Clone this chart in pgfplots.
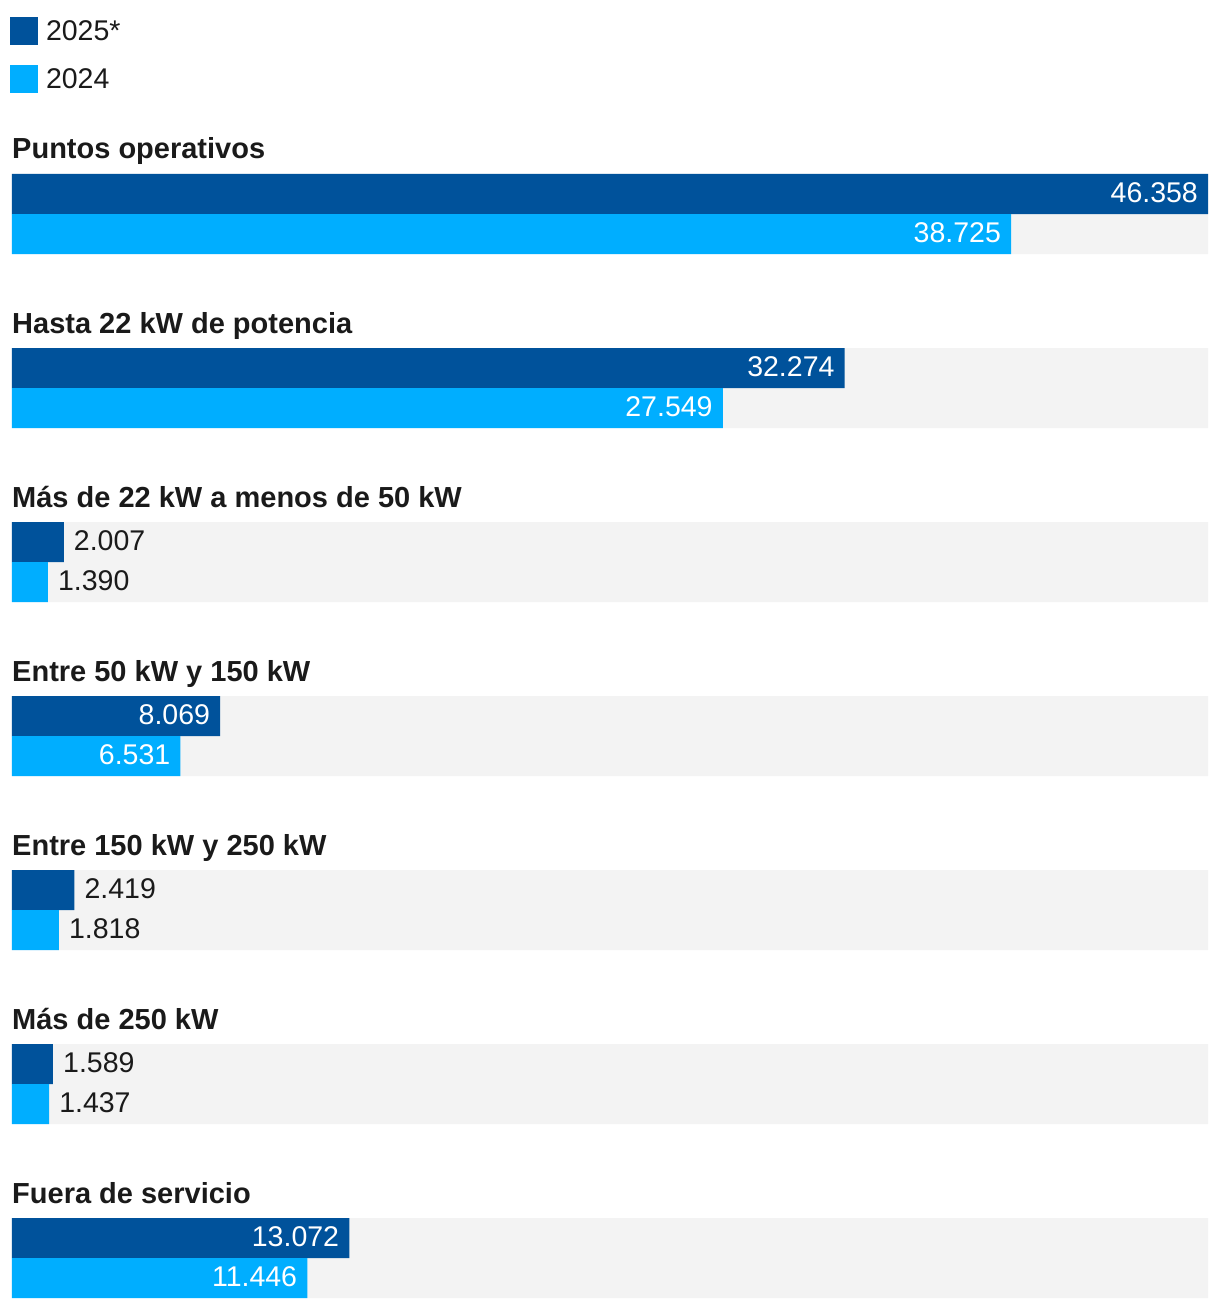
\documentclass[border=0pt]{standalone}
\usepackage{pgfplots}
\pgfplotsset{compat=1.18}
\usepackage{fontspec}
\setmainfont{Liberation Sans}
\definecolor{azuloscuro}{HTML}{00529B}
\definecolor{azulclaro}{HTML}{00AEFF}
\definecolor{fondo}{HTML}{F3F3F3}
\definecolor{texto}{HTML}{1A1A1A}
\newcommand{\valfont}{\fontsize{28.5}{28.5}\selectfont}
\newcommand{\catfont}{\fontsize{29}{29}\selectfont\bfseries}
\begin{document}
\begin{tikzpicture}
\begin{axis}[
    scale only axis,
    width=1220pt, height=1308pt,
    xmin=-465.1, xmax=46823.1,
    ymin=0, ymax=1308,
    y dir=reverse,
    hide axis, clip=false,
    xbar, bar width=40,
    point meta=x,
    /pgf/number format/.cd, fixed, precision=0, 1000 sep={.}, assume math mode=true,
    /pgfplots/.cd,
    legend style={draw=none, fill=none, at={(axis description cs:0,1)},
        anchor=north west, xshift=10pt, yshift=-17pt, inner sep=0pt, outer sep=0pt,
        row sep=20pt, font=\valfont\color{texto},
        /tikz/every odd column/.append style={column sep=6pt}},
    legend cell align=left,
    legend image code/.code={\fill[#1] (0pt,-14pt) rectangle (28pt,14pt);},
    inside/.style={nodes near coords, nodes near coords style={anchor=east, inner sep=0pt, xshift=-10pt, yshift=1.5pt, text=white, font=\valfont}},
    outside/.style={nodes near coords, nodes near coords style={anchor=west, inner sep=0pt, xshift=10pt, yshift=1.5pt, text=texto, font=\valfont}},
]
% fondo gris de cada grupo
\addplot[fill=fondo, draw=none, bar shift=0pt, bar width=80, forget plot] coordinates {
    (46358,214) (46358,388) (46358,562) (46358,736) (46358,910) (46358,1084) (46358,1258)};
% 2025*
\addplot[fill=azuloscuro, draw=none, bar shift=0pt, inside] coordinates {
    (46358,194) (32274,368) (8069,716) (13072,1238)};
\addplot[fill=azuloscuro, draw=none, bar shift=0pt, outside, forget plot] coordinates {
    (2007,542) (2419,890) (1589,1064)};
% 2024
\addplot[fill=azulclaro, draw=none, bar shift=0pt, inside] coordinates {
    (38725,234) (27549,408) (6531,756) (11446,1278)};
\addplot[fill=azulclaro, draw=none, bar shift=0pt, outside, forget plot] coordinates {
    (1390,582) (1818,930) (1437,1104)};
\legend{2025*, 2024}
% categorias
\node[anchor=base west, inner sep=0pt, text=texto, font=\catfont] at (axis cs:0,159) {Puntos operativos};
\node[anchor=base west, inner sep=0pt, text=texto, font=\catfont] at (axis cs:0,333) {Hasta 22 kW de potencia};
\node[anchor=base west, inner sep=0pt, text=texto, font=\catfont] at (axis cs:0,507) {Más de 22 kW a menos de 50 kW};
\node[anchor=base west, inner sep=0pt, text=texto, font=\catfont] at (axis cs:0,681) {Entre 50 kW y 150 kW};
\node[anchor=base west, inner sep=0pt, text=texto, font=\catfont] at (axis cs:0,855) {Entre 150 kW y 250 kW};
\node[anchor=base west, inner sep=0pt, text=texto, font=\catfont] at (axis cs:0,1029) {Más de 250 kW};
\node[anchor=base west, inner sep=0pt, text=texto, font=\catfont] at (axis cs:0,1203) {Fuera de servicio};
\path (axis description cs:0,0) rectangle (axis description cs:1,1);
\end{axis}
\end{tikzpicture}
\end{document}
